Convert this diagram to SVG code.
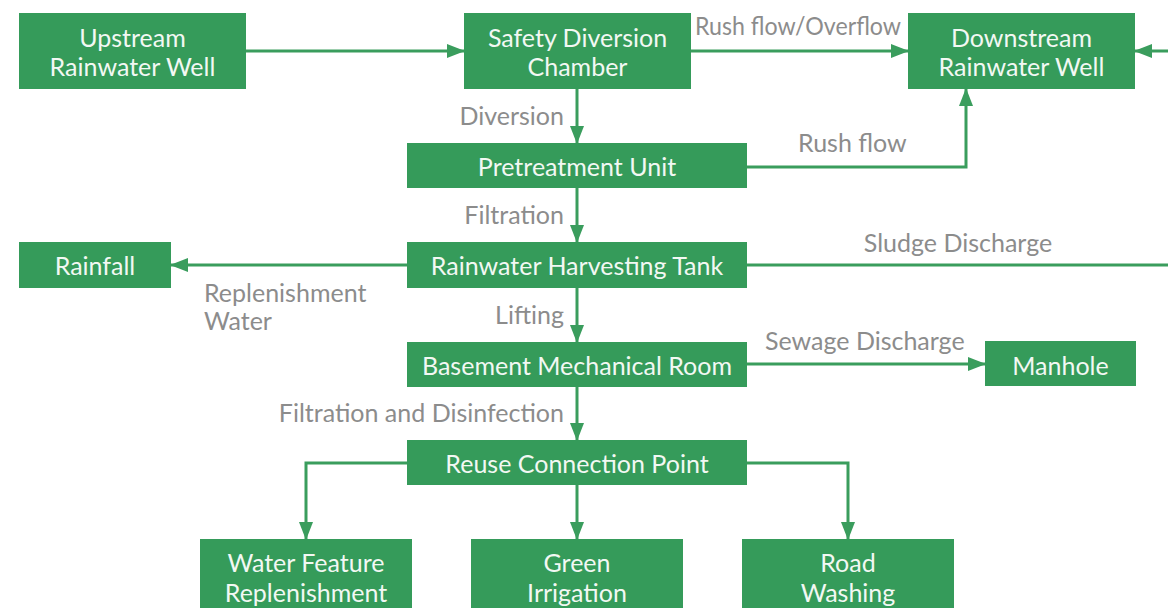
<svg xmlns="http://www.w3.org/2000/svg" width="1168" height="608" viewBox="0 0 1168 608">
  <style>
    .box { fill: #359b5a; }
    .t { font-family: Lato, "Liberation Sans", sans-serif; font-size: 25px; fill: #f2f8f3; text-anchor: middle; }
    .lbl { font-family: Lato, "Liberation Sans", sans-serif; font-size: 25px; fill: #8c8c8c; }
    .ln { fill: none; stroke: #3a9d5d; stroke-width: 3; }
  </style>
  <defs>
    <marker id="arrow" markerUnits="userSpaceOnUse" markerWidth="18" markerHeight="14" refX="17" refY="7" orient="auto">
      <path d="M0,0 L18,7 L0,14 Z" fill="#3a9d5d"/>
    </marker>
  </defs>
  <rect width="1168" height="608" fill="#ffffff"/>

  <g id="connectors">
    <path class="ln" d="M246,51 H464" marker-end="url(#arrow)"/>
    <path class="ln" d="M691,51 H908" marker-end="url(#arrow)"/>
    <path class="ln" d="M1168,51 H1135" marker-end="url(#arrow)"/>
    <path class="ln" d="M577,89 V143" marker-end="url(#arrow)"/>
    <path class="ln" d="M747,167 H966 V89" marker-end="url(#arrow)"/>
    <path class="ln" d="M577,188 V242" marker-end="url(#arrow)"/>
    <path class="ln" d="M407,265 H171" marker-end="url(#arrow)"/>
    <path class="ln" d="M747,265 H1168"/>
    <path class="ln" d="M577,288 V342" marker-end="url(#arrow)"/>
    <path class="ln" d="M747,364 H985" marker-end="url(#arrow)"/>
    <path class="ln" d="M577,387 V440" marker-end="url(#arrow)"/>
    <path class="ln" d="M407,463 H306 V539" marker-end="url(#arrow)"/>
    <path class="ln" d="M577,485 V539" marker-end="url(#arrow)"/>
    <path class="ln" d="M747,463 H848 V539" marker-end="url(#arrow)"/>

    <text class="lbl" x="695" y="35" textLength="206" lengthAdjust="spacingAndGlyphs">Rush flow/Overflow</text>
    <text class="lbl" x="798" y="152">Rush flow</text>
    <text class="lbl" x="564" y="125" text-anchor="end">Diversion</text>
    <text class="lbl" x="564" y="224" text-anchor="end">Filtration</text>
    <text class="lbl" x="958" y="252" text-anchor="middle">Sludge Discharge</text>
    <text class="lbl" x="204" y="302">Replenishment</text>
    <text class="lbl" x="204" y="330">Water</text>
    <text class="lbl" x="564" y="324" text-anchor="end">Lifting</text>
    <text class="lbl" x="765" y="350">Sewage Discharge</text>
    <text class="lbl" x="564" y="422" text-anchor="end">Filtration and Disinfection</text>
  </g>

  <g id="upstream-well">
    <rect class="box" x="19" y="13" width="227" height="76"/>
    <text class="t" x="132.5" y="47">Upstream</text>
    <text class="t" x="132.5" y="75.5">Rainwater Well</text>
  </g>
  <g id="safety-diversion-chamber">
    <rect class="box" x="464" y="13" width="227" height="76"/>
    <text class="t" x="577.5" y="47">Safety Diversion</text>
    <text class="t" x="577.5" y="75.5">Chamber</text>
  </g>
  <g id="downstream-well">
    <rect class="box" x="908" y="13" width="227" height="76"/>
    <text class="t" x="1021.5" y="47">Downstream</text>
    <text class="t" x="1021.5" y="75.5">Rainwater Well</text>
  </g>
  <g id="pretreatment-unit">
    <rect class="box" x="407" y="143" width="340" height="45"/>
    <text class="t" x="577" y="176">Pretreatment Unit</text>
  </g>
  <g id="rainfall">
    <rect class="box" x="19" y="242" width="152" height="46"/>
    <text class="t" x="95" y="275">Rainfall</text>
  </g>
  <g id="harvesting-tank">
    <rect class="box" x="407" y="242" width="340" height="46"/>
    <text class="t" x="577" y="274.5">Rainwater Harvesting Tank</text>
  </g>
  <g id="mechanical-room">
    <rect class="box" x="407" y="342" width="340" height="45"/>
    <text class="t" x="577" y="375">Basement Mechanical Room</text>
  </g>
  <g id="manhole">
    <rect class="box" x="985" y="341" width="151" height="45"/>
    <text class="t" x="1060.5" y="375">Manhole</text>
  </g>
  <g id="reuse-connection-point">
    <rect class="box" x="407" y="440" width="340" height="45"/>
    <text class="t" x="577" y="473">Reuse Connection Point</text>
  </g>
  <g id="water-feature">
    <rect class="box" x="200" y="539" width="212" height="80"/>
    <text class="t" x="306" y="572">Water Feature</text>
    <text class="t" x="306" y="602">Replenishment</text>
  </g>
  <g id="green-irrigation">
    <rect class="box" x="471" y="539" width="212" height="80"/>
    <text class="t" x="577" y="572">Green</text>
    <text class="t" x="577" y="602">Irrigation</text>
  </g>
  <g id="road-washing">
    <rect class="box" x="742" y="539" width="212" height="80"/>
    <text class="t" x="848" y="572">Road</text>
    <text class="t" x="848" y="602">Washing</text>
  </g>
</svg>
